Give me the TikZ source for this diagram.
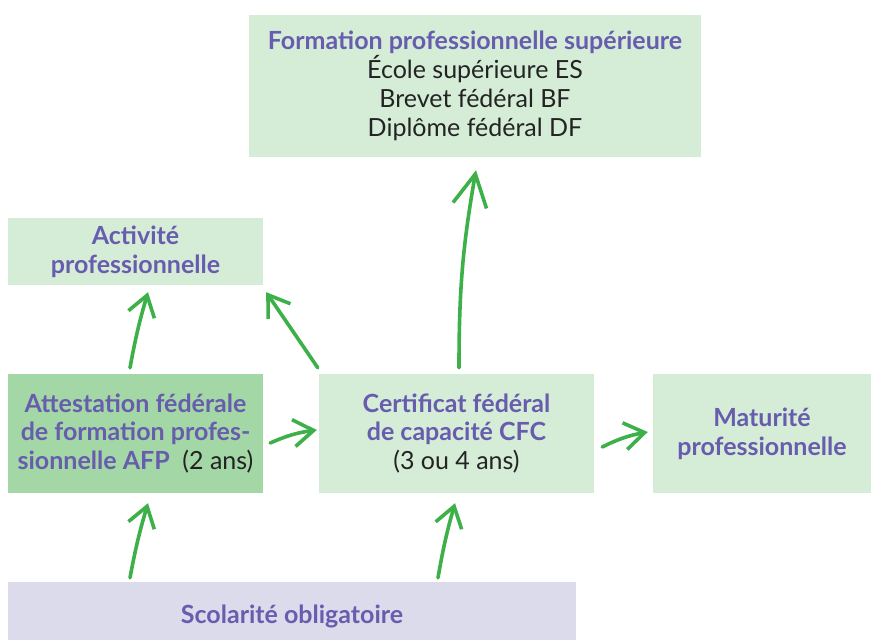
\documentclass[tikz,border=0pt]{standalone}
\usepackage{fontspec}
\setmainfont{Lato}
\usetikzlibrary{arrows.meta}

\definecolor{lightgreen}{RGB}{213,236,215}
\definecolor{midgreen}{RGB}{163,215,165}
\definecolor{lavender}{RGB}{220,219,235}
\definecolor{headpurple}{RGB}{104,92,174}
\definecolor{arrowgreen}{RGB}{62,176,74}
\definecolor{bodytext}{RGB}{35,35,35}

\newcommand{\headtxt}[1]{{\bfseries\color{headpurple}#1}}

\begin{document}
\begin{tikzpicture}[x=1pt, y=-1pt,
  box/.style={fill=lightgreen, inner sep=0pt, align=center, text=bodytext,
    font=\fontsize{25}{28.8}\selectfont},
  flow/.style={draw=arrowgreen, line width=3.6pt, line cap=round,
    -{Straight Barb[length=20pt, width=27pt, line width=3.6pt]}},
  longflow/.style={flow, -{Straight Barb[length=32pt, width=34pt, line width=3.6pt]}}]

\useasboundingbox (0,0) rectangle (871,640);

\node [box, minimum width=452, minimum height=142] (sup) at (475,86)
  {\headtxt{Formation professionnelle supérieure}\\
   École supérieure ES\\ Brevet fédéral BF\\ Diplôme fédéral DF};
\node [box, minimum width=255, minimum height=67] (act) at (135.5,251.5)
  {\headtxt{Activité}\\ \headtxt{professionnelle}};
\node [box, fill=midgreen, minimum width=255, minimum height=119] (afp) at (135.5,433.5)
  {\headtxt{Attestation fédérale}\\ \headtxt{de formation profes-}\\
   \headtxt{sionnelle AFP}\ \ (2 ans)};
\node [box, minimum width=275, minimum height=119] (cfc) at (456.5,433.5)
  {\headtxt{Certificat fédéral}\\ \headtxt{de capacité CFC}\\ (3 ou 4 ans)};
\node [box, minimum width=218, minimum height=119] (mat) at (762,433.5)
  {\headtxt{Maturité}\\ \headtxt{professionnelle}};
\node [box, fill=lavender, minimum width=568, minimum height=68] (scol) at (292,616)
  {\headtxt{Scolarité obligatoire}};

% arrows
\draw [flow] ([xshift=-162pt, yshift=4pt]scol.north) to[bend left=3]
  ([xshift=12.5pt, yshift=-10pt]afp.south);
\draw [flow] ([xshift=146pt, yshift=4pt]scol.north) to[bend left=3]
  ([xshift=-1.5pt, yshift=-10pt]cfc.south);
\draw [flow] ([xshift=-5.5pt, yshift=6pt]afp.north) to[bend left=3]
  ([xshift=12.5pt, yshift=-7pt]act.south);
\draw [flow] ([xshift=-1pt, yshift=6pt]cfc.north west) --
  ([xshift=3pt, yshift=-7pt]act.south east);
\draw [longflow] ([xshift=2.5pt, yshift=6pt]cfc.north) to[out=90, in=-100]
  ([xshift=1pt, yshift=-13pt]sup.south);
\draw [flow] ([xshift=7pt, yshift=-9.5pt]afp.east) to[bend left=8]
  ([xshift=-2pt, yshift=3.5pt]cfc.west);
\draw [flow] ([xshift=8pt, yshift=-13.5pt]cfc.east) to[bend left=8]
  ([xshift=-5pt, yshift=1.5pt]mat.west);

\end{tikzpicture}
\end{document}
